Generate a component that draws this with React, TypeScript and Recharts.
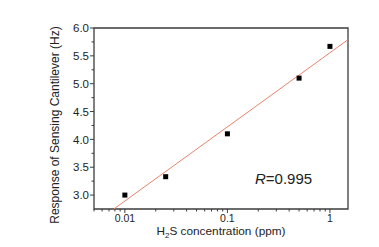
import { ScatterChart, Scatter, XAxis, YAxis, ReferenceArea } from 'recharts';

// measured points (H2S concentration in ppm, response in Hz)
const concentration = [0.01, 0.025, 0.1, 0.5, 1];
const response = [3.0, 3.33, 4.1, 5.1, 5.67];

const fitX = [0.0078, 1.5];
const fitY = [2.75, 5.79];

const xMajor = [0.01, 0.1, 1];
const xMinor = [
  0.005, 0.006, 0.007, 0.008, 0.009,
  0.02, 0.03, 0.04, 0.05, 0.06, 0.07, 0.08, 0.09,
  0.2, 0.3, 0.4, 0.5, 0.6, 0.7, 0.8, 0.9,
];
const yMajor = [3.0, 3.5, 4.0, 4.5, 5.0, 5.5, 6.0];
const yMinor = [3.25, 3.75, 4.25, 4.75, 5.25, 5.75];

const X_DOMAIN = [0.005, 1.5];
const Y_DOMAIN = [2.75, 6.0];

const points = concentration.map((c, i) => ({ x: c, y: response[i] }));
const fit = fitX.map((c, i) => ({ x: c, y: fitY[i] }));

const AXIS = '#3c3c3c';
const TEXT = '#222';
const FONT = '"Liberation Sans", Arial, sans-serif';

const XTick = (props: any) => {
  const { x, y, payload } = props;
  const major = xMajor.includes(payload.value);
  return (
    <g>
      <line x1={x} x2={x} y1={y} y2={y + (major ? 4 : 2.5)} stroke={AXIS} strokeWidth={1} />
      {major && (
        <text x={x} y={y + 13} textAnchor="middle" fontSize={10.5} fill={TEXT} fontFamily={FONT}>
          {payload.value}
        </text>
      )}
    </g>
  );
};

const YTick = (props: any) => {
  const { x, y, payload } = props;
  const major = yMajor.includes(payload.value);
  return (
    <g>
      <line x1={x} x2={x - (major ? 4 : 2.5)} y1={y} y2={y} stroke={AXIS} strokeWidth={1} />
      {major && (
        <text x={x - 5} y={y} dy="0.36em" textAnchor="end" fontSize={11.5} fill={TEXT} fontFamily={FONT}>
          {payload.value.toFixed(1)}
        </text>
      )}
    </g>
  );
};

const Square = (props: any) => {
  const { cx, cy } = props;
  return <rect x={cx - 2.5} y={cy - 2.5} width={5} height={5} fill="#000" />;
};

export default function App() {
  return (
    <div style={{ position: 'absolute', left: 0, top: 0, width: 379, height: 247, background: '#fff' }}>
      <ScatterChart width={379} height={247} margin={{ top: 28, right: 31, bottom: 0, left: 0 }}>
        <XAxis
          type="number"
          dataKey="x"
          scale="log"
          domain={X_DOMAIN}
          allowDataOverflow
          ticks={[...xMinor, ...xMajor].sort((a, b) => a - b)}
          interval={0}
          tick={<XTick />}
          tickLine={false}
          tickSize={0}
          tickMargin={0}
          axisLine={false}
          height={38}
        />
        <YAxis
          type="number"
          dataKey="y"
          domain={Y_DOMAIN}
          allowDataOverflow
          ticks={[...yMajor, ...yMinor].sort((a, b) => a - b)}
          interval={0}
          tick={<YTick />}
          tickLine={false}
          tickSize={0}
          tickMargin={0}
          axisLine={false}
          width={94}
        />
        <ReferenceArea
          x1={X_DOMAIN[0]}
          x2={X_DOMAIN[1]}
          y1={Y_DOMAIN[0]}
          y2={Y_DOMAIN[1]}
          fill="none"
          stroke={AXIS}
          strokeWidth={1.3}
          fillOpacity={0}
        />
        <Scatter
          data={fit}
          line={{ stroke: '#e8826c', strokeWidth: 1 }}
          shape={() => null}
          isAnimationActive={false}
        />
        <Scatter data={points} shape={<Square />} isAnimationActive={false} />
      </ScatterChart>
      <svg
        width={379}
        height={247}
        style={{ position: 'absolute', left: 0, top: 0, pointerEvents: 'none' }}
        fontFamily={FONT}
      >
        <text
          transform="translate(58.5,125) rotate(-90)"
          textAnchor="middle"
          fontSize={12}
          fill={TEXT}
        >
          Response of Sensing Cantilever (Hz)
        </text>
        <text x={221} y={235} textAnchor="middle" fontSize={11.8} fill={TEXT}>
          H<tspan fontSize={8} dy={3}>2</tspan>
          <tspan dy={-3}>S concentration (ppm)</tspan>
        </text>
        <text x={255} y={184} fontSize={15} fill={TEXT}>
          <tspan fontStyle="italic">R</tspan>=0.995
        </text>
      </svg>
    </div>
  );
}
